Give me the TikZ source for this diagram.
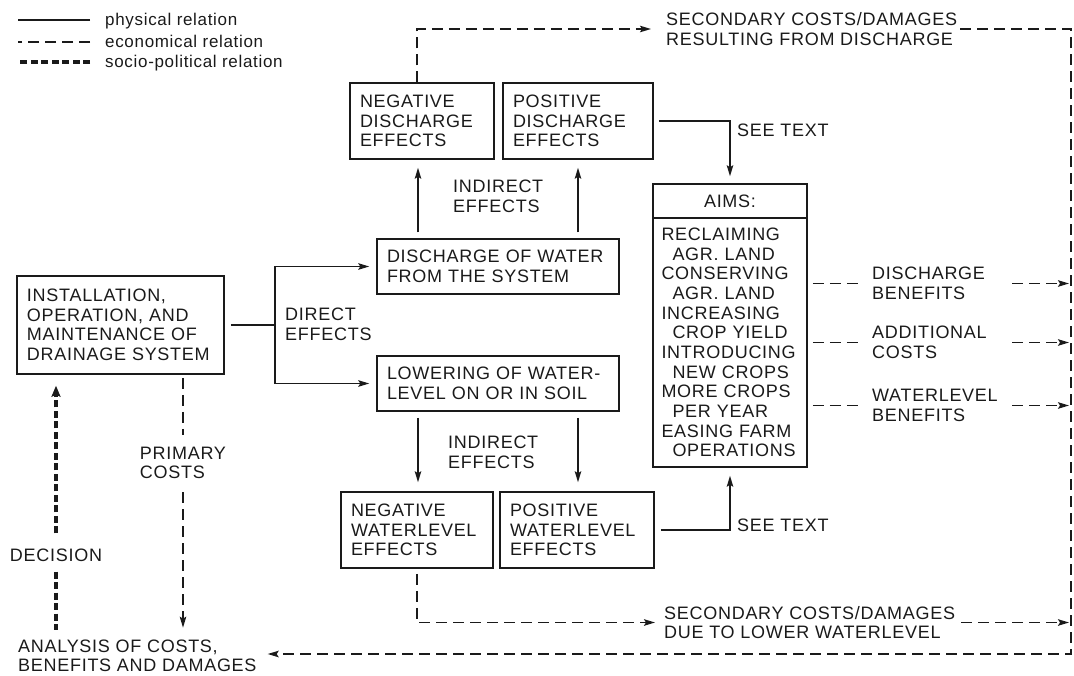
\documentclass[tikz,border=0pt]{standalone}
\usepackage{fontspec}
\setmainfont{Liberation Sans}[LetterSpace=4]
\usetikzlibrary{arrows.meta,calc}
\definecolor{ink}{HTML}{1A1A1A}
\begin{document}
\begin{tikzpicture}[x=1pt,y=-1pt,
  every node/.style={text=ink, font=\fontsize{18}{19.5}\selectfont},
  box/.style={draw=ink, line width=1.5pt, inner xsep=10pt, inner ysep=0pt, align=left, anchor=center},
  lbl/.style={inner sep=0pt, align=left},
  leg/.style={inner sep=0pt, anchor=base west, font=\fontsize{17}{19}\selectfont},
  phys/.style={draw=ink, line width=1.5pt},
  econ/.style={draw=ink, line width=1.5pt, dash pattern=on 11pt off 6pt},
  socio/.style={draw=ink, line width=3.4pt, dash pattern=on 7pt off 3.5pt},
  arr/.style={-{Stealth[length=11pt,width=6.5pt,inset=2pt]}},
  tarr/.style={-{Stealth[length=11pt,width=9pt,inset=2pt]}},
]
\useasboundingbox (0,0) rectangle (1074,675);

% legend
\node[leg] (l1) at (105,25) {physical relation};
\node[leg] (l2) at (105,47) {economical relation};
\node[leg] (l3) at (105,67) {socio-political relation};
\draw[phys] ($(l1.base west)+(-15,-5)$) -- ($(l1.base west)+(-87,-5)$);
\draw[econ] ($(l2.base west)+(-15,-5)$) -- ($(l2.base west)+(-87,-5)$);
\draw[socio] ($(l3.base west)+(-15,-5)$) -- ($(l3.base west)+(-87,-5)$);

% boxes
\node[box, minimum width=207, minimum height=98, text width=187] (inst) at (120.5,325)
  {INSTALLATION,\\OPERATION,~AND\\MAINTENANCE~OF\\DRAINAGE~SYSTEM};
\node[box, minimum width=144, minimum height=76, text width=124] (negd) at (422,121)
  {NEGATIVE\\DISCHARGE\\EFFECTS};
\node[box, minimum width=150, minimum height=76, text width=130] (posd) at (578,121)
  {POSITIVE\\DISCHARGE\\EFFECTS};
\node[box, minimum width=242, minimum height=55, text width=222] (disch) at (498,266.5)
  {DISCHARGE~OF~WATER\\FROM~THE~SYSTEM};
\node[box, minimum width=242, minimum height=55, text width=222] (lower) at (498,383.5)
  {LOWERING~OF~WATER-\\LEVEL~ON~OR~IN~SOIL};
\node[box, minimum width=152, minimum height=76, text width=132] (negw) at (417,530)
  {NEGATIVE\\WATERLEVEL\\EFFECTS};
\node[box, minimum width=154, minimum height=76, text width=134] (posw) at (577,530)
  {POSITIVE\\WATERLEVEL\\EFFECTS};
\node[box, align=center, minimum width=154, minimum height=34] (aimsh) at (730,201) {AIMS:};
\node[box, minimum width=154, minimum height=249, text width=137, inner xsep=8.5pt,
      font=\fontsize{18}{19.64}\selectfont] (aimsb) at (730,342.5)
  {RECLAIMING\\
   \hspace*{11pt}AGR.~LAND\\
   CONSERVING\\
   \hspace*{11pt}AGR.~LAND\\
   INCREASING\\
   \hspace*{11pt}CROP~YIELD\\
   INTRODUCING\\
   \hspace*{11pt}NEW~CROPS\\
   MORE~CROPS\\
   \hspace*{11pt}PER~YEAR\\
   EASING~FARM\\
   \hspace*{11pt}OPERATIONS};

% labels
\node[lbl, anchor=west] (sec1) at (666,29) {SECONDARY COSTS/DAMAGES\\RESULTING FROM DISCHARGE};
\node[lbl, anchor=west] (sec2) at (664,622.5) {SECONDARY COSTS/DAMAGES\\DUE TO LOWER WATERLEVEL};
\node[lbl, anchor=west] (anal) at (18,656) {ANALYSIS OF COSTS,\\BENEFITS AND DAMAGES};
\node[lbl] (dec) at (56,555) {DECISION};
\node[lbl] (pc) at (183,463) {PRIMARY\\COSTS};
\node[lbl, anchor=west] (dir) at (285,324.5) {DIRECT\\EFFECTS};
\node[lbl, anchor=west] (ind1) at (453,196.5) {INDIRECT\\EFFECTS};
\node[lbl, anchor=west] (ind2) at (448,452.5) {INDIRECT\\EFFECTS};
\node[lbl, anchor=west] (see1) at (737,130) {SEE TEXT};
\node[lbl, anchor=west] (see2) at (737,525) {SEE TEXT};
\node[lbl, anchor=west] (dben) at (872,283.5) {DISCHARGE\\BENEFITS};
\node[lbl, anchor=west] (addc) at (872,342.5) {ADDITIONAL\\COSTS};
\node[lbl, anchor=west] (wben) at (872,405.5) {WATERLEVEL\\BENEFITS};

% helper coordinates
\coordinate (jx) at (275,0);
\coordinate (a1) at (418,0);
\coordinate (a2) at (578,0);
\coordinate (tl) at (417,0);
\coordinate (TR) at (1071,0);
\coordinate (BR) at (1071,654);

% physical relations
\draw[phys, shorten <=6pt] (inst.east) -- (inst.east -| jx);
\draw[phys, arr, shorten >=7pt] (jx |- lower.west) -- (jx |- disch.west) -- (disch.west);
\draw[phys, arr, shorten >=7pt] (jx |- lower.west) -- (lower.west);
\draw[phys, arr, shorten <=6pt, shorten >=8pt] (disch.north -| a1) -- (negd.south -| a1);
\draw[phys, arr, shorten <=6pt, shorten >=8pt] (disch.north -| a2) -- (posd.south -| a2);
\draw[phys, arr, shorten <=6pt, shorten >=9pt] (lower.south -| a1) -- (negw.north -| a1);
\draw[phys, arr, shorten <=6pt, shorten >=9pt] (lower.south -| a2) -- (posw.north -| a2);
\draw[phys, arr, shorten <=5pt, shorten >=7pt] (posd.east) -- (posd.east -| aimsh.north) -- (aimsh.north);
\draw[phys, arr, shorten <=6pt, shorten >=8pt] (posw.east) -- (posw.east -| aimsb.south) -- (aimsb.south);

% economical relations
\draw[econ, arr, shorten >=15pt] (negd.north -| tl) -- (tl |- sec1.west) -- (sec1.west);
\draw[econ, arr, shorten <=3pt, shorten >=11pt] (sec1.east) -- (sec1.east -| TR) -- (BR) -- (BR -| anal.east);
\draw[econ, arr, shorten <=5pt, shorten >=9pt] (negw.south -| tl) -- (tl |- sec2.west) -- (sec2.west);
\draw[econ, arr, shorten <=6pt, shorten >=2pt] (sec2.east) -- (sec2.east -| BR);
\draw[econ, shorten <=5pt, shorten >=12pt] (aimsb.east |- dben.west) -- (dben.west);
\draw[econ, shorten <=5pt, shorten >=12pt] (aimsb.east |- addc.west) -- (addc.west);
\draw[econ, shorten <=5pt, shorten >=12pt] (aimsb.east |- wben.west) -- (wben.west);
\draw[econ, arr, shorten >=2pt] ($(dben.west)+(140,0)$) -- (dben.west -| BR);
\draw[econ, arr, shorten >=2pt] ($(addc.west)+(140,0)$) -- (addc.west -| BR);
\draw[econ, arr, shorten >=2pt] ($(wben.west)+(140,0)$) -- (wben.west -| BR);
\draw[econ, shorten <=3pt, shorten >=12pt] (inst.south -| pc) -- (pc.north);
\draw[econ, arr, shorten <=13pt, shorten >=12pt] (pc.south) -- (pc.south |- anal.north);

% socio-political relation
\draw[socio, tarr, shorten <=15pt, shorten >=11pt] (dec.north) -- (dec.north |- inst.south);
\draw[socio, shorten <=10pt, shorten >=10pt] (dec.south) -- (dec.south |- anal.north);
\end{tikzpicture}
\end{document}
